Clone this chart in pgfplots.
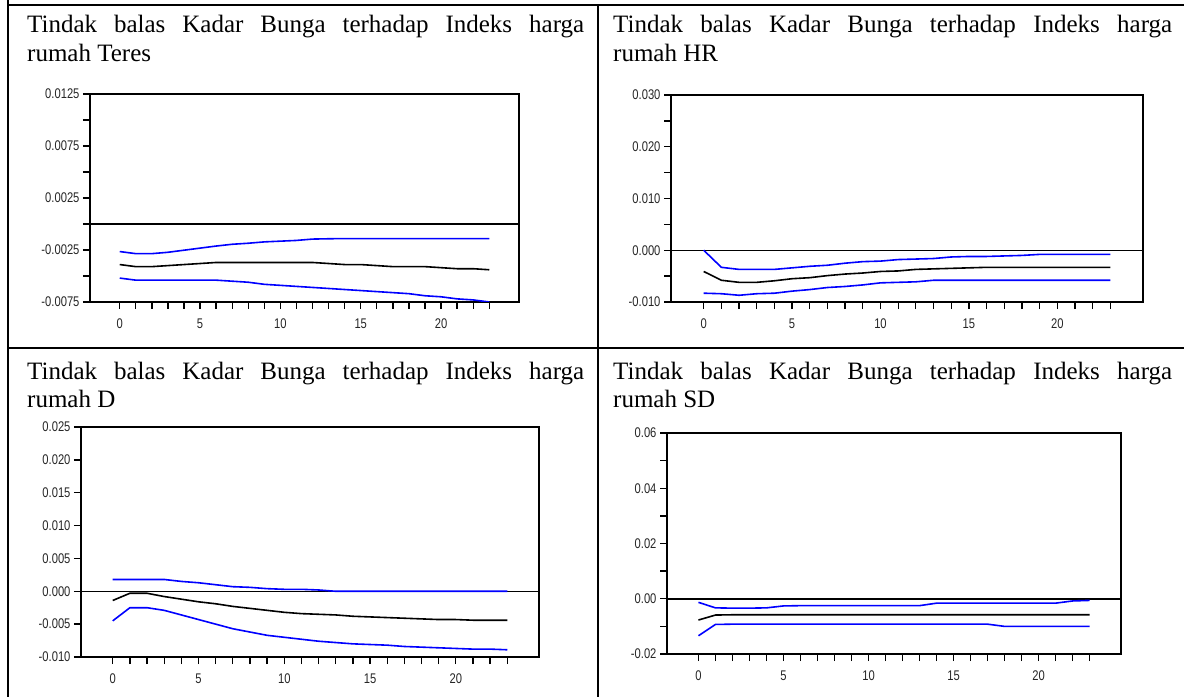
\documentclass[border=0pt]{standalone}
\usepackage{pgfplots}
\pgfplotsset{compat=1.18}
\usepackage{fontspec}
\setmainfont{Liberation Serif}
\newfontfamily\sansf[FakeStretch=0.8]{Liberation Sans}
\definecolor{irfblue}{RGB}{0,0,255}
\pgfplotsset{
  irf/.style={
    scale only axis,
    xmin=-1.85, xmax=24.85,
    axis line style={line width=1.6pt},
    tick pos=left, tick align=outside,
    major tick length=7pt,
    every tick/.style={black, line width=1.3pt},
    xtick={0,1,...,23},
    xticklabels={0,,,,,5,,,,,10,,,,,15,,,,,20,,,},
    tick label style={font=\sansf\fontsize{14}{14}\selectfont, text=black!85},
    xticklabel style={yshift=-6pt},
    scaled y ticks=false,
    /pgf/number format/assume math mode=true,
    clip=true,
  },
  zl/.style={black, line width=1.5pt},
  bl/.style={irfblue, line width=1.6pt},
  bk/.style={black, line width=1.6pt},
}
\begin{document}
\begin{tikzpicture}[x=1pt,y=1pt]
\path[use as bounding box] (0,0) rectangle (1184,697);
% table lines
\draw[line width=1.8pt] (8,692) -- (1184,692);
\draw[line width=1.8pt] (8,349) -- (1184,349);
\draw[line width=1.8pt] (8,697) -- (8,0);
\draw[line width=1.8pt] (598,692) -- (598,0);
% titles
\begingroup\fontsize{25}{28}\selectfont
\node[anchor=base west, inner sep=0] at (27,664) {\makebox[557pt][s]{Tindak balas Kadar Bunga terhadap Indeks harga}};
\node[anchor=base west, inner sep=0] at (27,635) {rumah Teres};
\node[anchor=base west, inner sep=0] at (613,664) {\makebox[559pt][s]{Tindak balas Kadar Bunga terhadap Indeks harga}};
\node[anchor=base west, inner sep=0] at (613,635) {rumah HR};
\node[anchor=base west, inner sep=0] at (27,317) {\makebox[557pt][s]{Tindak balas Kadar Bunga terhadap Indeks harga}};
\node[anchor=base west, inner sep=0] at (27,289) {rumah D};
\node[anchor=base west, inner sep=0] at (613,317) {\makebox[559pt][s]{Tindak balas Kadar Bunga terhadap Indeks harga}};
\node[anchor=base west, inner sep=0] at (613,289) {rumah SD};
\endgroup
% Panel 1: Teres
\begin{axis}[irf, at={(90pt,395pt)}, anchor=south west, width=429pt, height=208pt,
  ymin=-0.0075, ymax=0.0125,
  ytick={-0.0075,-0.005,-0.0025,0,0.0025,0.005,0.0075,0.01,0.0125},
  yticklabels={-0.0075,,-0.0025,,0.0025,,0.0075,,0.0125}]
\addplot[zl] coordinates {(-1.85,0) (24.85,0)};
\addplot[bl] coordinates {(0,-0.00265)(1,-0.00285)(2,-0.00285)(3,-0.00272)(4,-0.00252)(5,-0.00232)(6,-0.00212)(7,-0.00195)(8,-0.00185)(9,-0.00172)(10,-0.00165)(11,-0.00158)(12,-0.00145)(13,-0.00142)(14,-0.0014)(15,-0.0014)(16,-0.0014)(17,-0.0014)(18,-0.0014)(19,-0.0014)(20,-0.0014)(21,-0.0014)(22,-0.0014)(23,-0.0014)};
\addplot[bk] coordinates {(0,-0.0039)(1,-0.0041)(2,-0.0041)(3,-0.0040)(4,-0.0039)(5,-0.0038)(6,-0.0037)(7,-0.0037)(8,-0.0037)(9,-0.0037)(10,-0.0037)(11,-0.0037)(12,-0.0037)(13,-0.0038)(14,-0.0039)(15,-0.0039)(16,-0.0040)(17,-0.0041)(18,-0.0041)(19,-0.0041)(20,-0.0042)(21,-0.0043)(22,-0.0043)(23,-0.0044)};
\addplot[bl] coordinates {(0,-0.0052)(1,-0.0054)(2,-0.0054)(3,-0.0054)(4,-0.0054)(5,-0.0054)(6,-0.0054)(7,-0.0055)(8,-0.0056)(9,-0.0058)(10,-0.0059)(11,-0.0060)(12,-0.0061)(13,-0.0062)(14,-0.0063)(15,-0.0064)(16,-0.0065)(17,-0.0066)(18,-0.0067)(19,-0.0069)(20,-0.0070)(21,-0.0072)(22,-0.0073)(23,-0.0075)};
\end{axis}
% Panel 2: HR
\begin{axis}[irf, at={(671pt,395pt)}, anchor=south west, width=472pt, height=207pt,
  ymin=-0.010, ymax=0.030,
  ytick={-0.01,-0.005,0,0.005,0.01,0.015,0.02,0.025,0.03},
  yticklabels={-0.010,,0.000,,0.010,,0.020,,0.030}]
\addplot[zl] coordinates {(-1.85,0) (24.85,0)};
\addplot[bl] coordinates {(0,0.0000)(1,-0.0033)(2,-0.0037)(3,-0.0037)(4,-0.0037)(5,-0.0034)(6,-0.0031)(7,-0.0029)(8,-0.0025)(9,-0.0022)(10,-0.0021)(11,-0.0018)(12,-0.0017)(13,-0.0016)(14,-0.0013)(15,-0.0012)(16,-0.0012)(17,-0.0011)(18,-0.0010)(19,-0.0008)(20,-0.0008)(21,-0.0008)(22,-0.0008)(23,-0.0008)};
\addplot[bk] coordinates {(0,-0.0041)(1,-0.0058)(2,-0.0062)(3,-0.0062)(4,-0.0059)(5,-0.0055)(6,-0.0053)(7,-0.0049)(8,-0.0046)(9,-0.0044)(10,-0.0041)(11,-0.0040)(12,-0.0037)(13,-0.0036)(14,-0.0035)(15,-0.0034)(16,-0.0033)(17,-0.0033)(18,-0.0033)(19,-0.0033)(20,-0.0033)(21,-0.0033)(22,-0.0033)(23,-0.0033)};
\addplot[bl] coordinates {(0,-0.0083)(1,-0.0084)(2,-0.0087)(3,-0.0084)(4,-0.0083)(5,-0.0079)(6,-0.0076)(7,-0.0072)(8,-0.0070)(9,-0.0067)(10,-0.0063)(11,-0.0062)(12,-0.0061)(13,-0.0058)(14,-0.0058)(15,-0.0058)(16,-0.0058)(17,-0.0058)(18,-0.0058)(19,-0.0058)(20,-0.0058)(21,-0.0058)(22,-0.0058)(23,-0.0058)};
\end{axis}
% Panel 3: D
\begin{axis}[irf, at={(81pt,40pt)}, anchor=south west, width=458pt, height=230pt,
  ymin=-0.010, ymax=0.025,
  ytick={-0.01,-0.005,0,0.005,0.01,0.015,0.02,0.025},
  yticklabels={-0.010,-0.005,0.000,0.005,0.010,0.015,0.020,0.025}]
\addplot[zl] coordinates {(-1.85,0) (24.85,0)};
\addplot[bl] coordinates {(0,0.0018)(1,0.0018)(2,0.0018)(3,0.0018)(4,0.0015)(5,0.0013)(6,0.0010)(7,0.0007)(8,0.0006)(9,0.0004)(10,0.0003)(11,0.0003)(12,0.0002)(13,0.0000)(14,0.0000)(15,0.0000)(16,0.0000)(17,0.0000)(18,0.0000)(19,0.0000)(20,0.0000)(21,0.0000)(22,0.0000)(23,0.0000)};
\addplot[bk] coordinates {(0,-0.0014)(1,-0.0003)(2,-0.0003)(3,-0.0008)(4,-0.0012)(5,-0.0016)(6,-0.0019)(7,-0.0023)(8,-0.0026)(9,-0.0029)(10,-0.0032)(11,-0.0034)(12,-0.0035)(13,-0.0036)(14,-0.0038)(15,-0.0039)(16,-0.0040)(17,-0.0041)(18,-0.0042)(19,-0.0043)(20,-0.0043)(21,-0.0044)(22,-0.0044)(23,-0.0044)};
\addplot[bl] coordinates {(0,-0.0045)(1,-0.0025)(2,-0.0025)(3,-0.0029)(4,-0.0036)(5,-0.0043)(6,-0.0050)(7,-0.0057)(8,-0.0062)(9,-0.0067)(10,-0.0070)(11,-0.0073)(12,-0.0076)(13,-0.0078)(14,-0.0080)(15,-0.0081)(16,-0.0082)(17,-0.0084)(18,-0.0085)(19,-0.0086)(20,-0.0087)(21,-0.0088)(22,-0.0088)(23,-0.0089)};
\end{axis}
% Panel 4: SD
\begin{axis}[irf, at={(667pt,43pt)}, anchor=south west, width=454pt, height=221pt,
  ymin=-0.02, ymax=0.06,
  ytick={-0.02,-0.01,0,0.01,0.02,0.03,0.04,0.05,0.06},
  yticklabels={-0.02,,0.00,,0.02,,0.04,,0.06}]
\addplot[zl] coordinates {(-1.85,0) (24.85,0)};
\addplot[bl] coordinates {(0,-0.0013)(1,-0.0033)(2,-0.0034)(3,-0.0034)(4,-0.0033)(5,-0.0026)(6,-0.0025)(7,-0.0025)(8,-0.0025)(9,-0.0025)(10,-0.0025)(11,-0.0025)(12,-0.0025)(13,-0.0025)(14,-0.0016)(15,-0.0016)(16,-0.0016)(17,-0.0016)(18,-0.0016)(19,-0.0016)(20,-0.0016)(21,-0.0016)(22,-0.0008)(23,-0.0006)};
\addplot[bk] coordinates {(0,-0.0077)(1,-0.0059)(2,-0.0058)(3,-0.0058)(4,-0.0058)(5,-0.0058)(6,-0.0058)(7,-0.0058)(8,-0.0058)(9,-0.0058)(10,-0.0058)(11,-0.0058)(12,-0.0058)(13,-0.0058)(14,-0.0058)(15,-0.0058)(16,-0.0058)(17,-0.0058)(18,-0.0058)(19,-0.0058)(20,-0.0058)(21,-0.0058)(22,-0.0058)(23,-0.0058)};
\addplot[bl] coordinates {(0,-0.0134)(1,-0.0093)(2,-0.0092)(3,-0.0092)(4,-0.0092)(5,-0.0092)(6,-0.0092)(7,-0.0092)(8,-0.0092)(9,-0.0092)(10,-0.0092)(11,-0.0092)(12,-0.0092)(13,-0.0092)(14,-0.0092)(15,-0.0092)(16,-0.0092)(17,-0.0092)(18,-0.0100)(19,-0.0100)(20,-0.0100)(21,-0.0100)(22,-0.0100)(23,-0.0100)};
\end{axis}
\end{tikzpicture}
\end{document}
